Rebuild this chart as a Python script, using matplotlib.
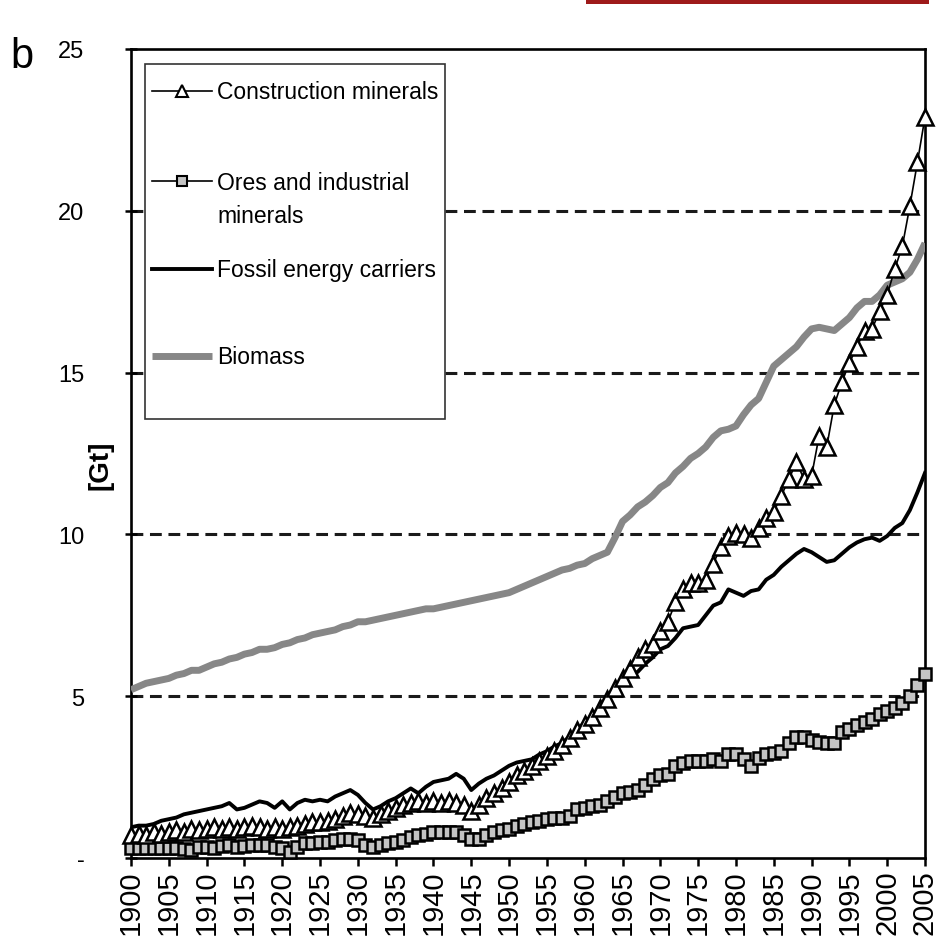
import numpy as np
import matplotlib
matplotlib.use("Agg")
import matplotlib.pyplot as plt
from matplotlib.patches import Rectangle

plt.rcParams['font.family'] = ['Liberation Sans Narrow', 'Liberation Sans', 'DejaVu Sans']
plt.rcParams['lines.scale_dashes'] = False

# years 1900-2005
years = np.arange(1900, 2006)

# [Gt] per year
construction = [
    0.7, 0.75, 0.7, 0.8, 0.75, 0.8, 0.85, 0.8, 0.9, 0.85,
    0.9, 0.95, 0.9, 0.95, 0.9, 0.95, 1.0, 0.95, 0.9, 0.95,
    0.9, 0.95, 1.0, 1.05, 1.1, 1.1, 1.15, 1.2, 1.3, 1.4,
    1.35, 1.3, 1.25, 1.35, 1.45, 1.55, 1.65, 1.7, 1.75, 1.7,
    1.75, 1.7, 1.75, 1.7, 1.65, 1.45, 1.65, 1.85, 2.0, 2.15,
    2.35, 2.55, 2.7, 2.85, 3.0, 3.15, 3.3, 3.5, 3.7, 3.95,
    4.15, 4.35, 4.65, 4.9, 5.25, 5.55, 5.85, 6.2, 6.45, 6.6,
    7.0, 7.3, 7.9, 8.3, 8.5, 8.5, 8.6, 9.1, 9.6, 9.95,
    10.05, 10.0, 9.9, 10.2, 10.5, 10.7, 11.2, 11.7, 12.25, 11.7,
    11.8, 13.05, 12.7, 14.0, 14.7, 15.3, 15.8, 16.3, 16.35, 16.9,
    17.4, 18.2, 18.9, 20.15, 21.5, 22.9]

ores = [
    0.3, 0.3, 0.3, 0.3, 0.3, 0.3, 0.3, 0.28, 0.25, 0.35,
    0.35, 0.3, 0.38, 0.4, 0.35, 0.38, 0.4, 0.4, 0.4, 0.35,
    0.3, 0.2, 0.35, 0.45, 0.45, 0.5, 0.5, 0.55, 0.6, 0.6,
    0.55, 0.4, 0.35, 0.4, 0.45, 0.5, 0.55, 0.65, 0.7, 0.75,
    0.8, 0.8, 0.8, 0.8, 0.7, 0.6, 0.6, 0.7, 0.8, 0.85,
    0.9, 1.0, 1.05, 1.1, 1.15, 1.2, 1.25, 1.25, 1.3, 1.5,
    1.55, 1.6, 1.65, 1.75, 1.9, 2.0, 2.05, 2.1, 2.25, 2.45,
    2.55, 2.6, 2.85, 2.95, 3.0, 3.0, 3.0, 3.05, 3.0, 3.2,
    3.2, 3.05, 2.85, 3.1, 3.2, 3.25, 3.3, 3.55, 3.75, 3.75,
    3.65, 3.6, 3.55, 3.55, 3.9, 4.0, 4.1, 4.2, 4.3, 4.45,
    4.55, 4.65, 4.8, 5.0, 5.35, 5.7]

fossil = [
    0.95, 1.0, 1.0, 1.05, 1.15, 1.2, 1.25, 1.35, 1.4, 1.45,
    1.5, 1.55, 1.6, 1.7, 1.5, 1.55, 1.65, 1.75, 1.7, 1.55,
    1.75, 1.5, 1.7, 1.8, 1.75, 1.8, 1.75, 1.9, 2.0, 2.1,
    1.95, 1.7, 1.5, 1.6, 1.75, 1.85, 2.0, 2.15, 2.0, 2.2,
    2.35, 2.4, 2.45, 2.6, 2.45, 2.1, 2.3, 2.45, 2.55, 2.7,
    2.85, 2.95, 3.0, 3.05, 3.2, 3.3, 3.45, 3.55, 3.75, 3.95,
    4.2, 4.4, 4.65, 4.9, 5.2, 5.45, 5.65, 5.75, 6.0, 6.2,
    6.45, 6.55, 6.8, 7.1, 7.15, 7.2, 7.5, 7.8, 7.9, 8.3,
    8.2, 8.1, 8.25, 8.3, 8.6, 8.75, 9.0, 9.2, 9.4, 9.55,
    9.45, 9.3, 9.15, 9.2, 9.4, 9.6, 9.75, 9.85, 9.9, 9.8,
    9.95, 10.2, 10.35, 10.75, 11.3, 11.9]

biomass = [
    5.2, 5.3, 5.4, 5.45, 5.5, 5.55, 5.65, 5.7, 5.8, 5.8,
    5.9, 6.0, 6.05, 6.15, 6.2, 6.3, 6.35, 6.45, 6.45, 6.5,
    6.6, 6.65, 6.75, 6.8, 6.9, 6.95, 7.0, 7.05, 7.15, 7.2,
    7.3, 7.3, 7.35, 7.4, 7.45, 7.5, 7.55, 7.6, 7.65, 7.7,
    7.7, 7.75, 7.8, 7.85, 7.9, 7.95, 8.0, 8.05, 8.1, 8.15,
    8.2, 8.3, 8.4, 8.5, 8.6, 8.7, 8.8, 8.9, 8.95, 9.05,
    9.1, 9.25, 9.35, 9.45, 9.9, 10.4, 10.6, 10.85, 11.0, 11.2,
    11.45, 11.6, 11.9, 12.1, 12.35, 12.5, 12.7, 13.0, 13.2, 13.25,
    13.35, 13.7, 14.0, 14.2, 14.7, 15.2, 15.4, 15.6, 15.8, 16.1,
    16.35, 16.4, 16.35, 16.3, 16.5, 16.7, 17.0, 17.2, 17.2, 17.4,
    17.7, 17.8, 17.9, 18.1, 18.5, 19.0]

labels = ['Construction minerals', 'Ores and industrial\nminerals',
          'Fossil energy carriers', 'Biomass']
yticks = [0, 5, 10, 15, 20, 25]
ytick_labels = ['-', '5', '10', '15', '20', '25']
xticks = list(range(1900, 2006, 5))

fig = plt.figure(figsize=(9.43, 9.45), dpi=100)
ax = fig.add_axes([131/943, 86/945, 794/943, 809/945])

# series
ax.plot(years, biomass, color='#878787', lw=5, zorder=3, solid_capstyle='butt')
ax.plot(years, fossil, color='black', lw=2.8, zorder=4)
ax.plot(years, ores, color='black', lw=1.2, marker='s', ms=9, mfc='#c4c4c4',
        mec='black', mew=1.8, zorder=5, clip_on=False)
ax.plot(years, construction, color='black', lw=1.2, marker='^', ms=11, mfc='white',
        mec='black', mew=1.8, zorder=6, clip_on=False)

ax.set_xlim(1900, 2005)
ax.set_ylim(0, 25)

# dashed horizontal lines
for v in yticks[1:-1]:
    ax.axhline(v, color='#1a1a1a', lw=2.2, dashes=(8.5, 4.8), zorder=1)

ax.set_yticks(yticks)
ax.set_yticklabels(ytick_labels, fontsize=17)
ax.set_xticks(xticks)
ax.set_xticklabels([str(t) for t in xticks], rotation=90, fontsize=21)
ax.tick_params(axis='y', direction='inout', length=9, width=1.8, pad=29)
ax.tick_params(axis='x', direction='out', length=6, width=1.8, pad=2)
for s in ax.spines.values():
    s.set_linewidth(1.9)

ax.set_ylabel('[Gt]', fontsize=20, fontweight='bold', va='center')
ax.yaxis.set_label_coords(-0.039, 0.487)

# legend drawn by hand to keep the original spacing
tr = ax.transAxes
ax.add_patch(Rectangle((0.0176, 0.5427), 0.378, 0.4388, transform=tr,
                       facecolor='white', edgecolor='#333333', lw=1.2, zorder=7))
leg_y = [0.948, 0.8368, 0.728, 0.6205]
text_y = [0.948, 0.8146, 0.728, 0.6205]
styles = [
    dict(color='black', lw=1.2, marker='^', ms=8, mfc='white', mec='black', mew=1.5),
    dict(color='black', lw=1.2, marker='s', ms=7, mfc='#c4c4c4', mec='black', mew=1.5),
    dict(color='black', lw=2.8),
    dict(color='#878787', lw=5, solid_capstyle='butt'),
]
for lab, yh, yt, st in zip(labels, leg_y, text_y, styles):
    ax.plot([0.0264, 0.102], [yh, yh], transform=tr, zorder=8, clip_on=False,
            markevery=[], **st)
    if 'marker' in st:
        ax.plot([0.0642], [yh], transform=tr, zorder=9, clip_on=False, **st)
    ax.text(0.1083, yt, lab, transform=tr, fontsize=16.5, va='center', ha='left',
            linespacing=1.55, zorder=9)

fig.text(10/943, 1 - 68/945, 'b', fontsize=30, va='baseline', ha='left')
fig.patches.append(Rectangle((586/943, 1 - 5/945), 343/943, 5/945,
                             transform=fig.transFigure, facecolor='#9e1a1a',
                             edgecolor='none'))

fig.savefig('out.png', dpi=100)
